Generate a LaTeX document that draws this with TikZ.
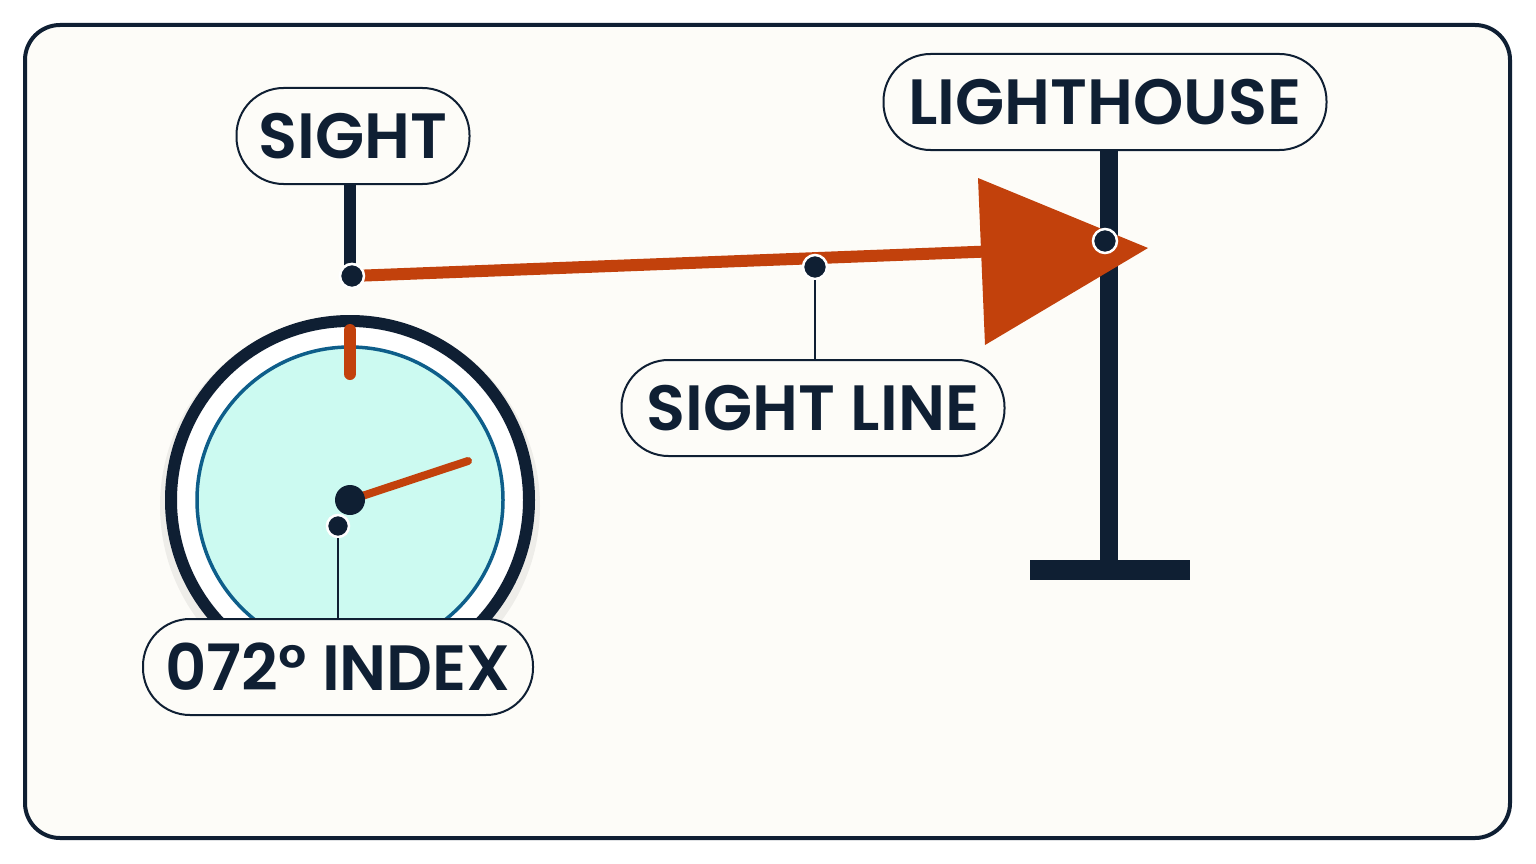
\documentclass[tikz,border=0pt]{standalone}
\usepackage{fontspec}
\setmainfont{Poppins}[BoldFont={Poppins SemiBold}]
\begin{document}
\begin{tikzpicture}[x=1pt,y=-1pt,
  lab/.style={draw=navy,line width=2pt,fill=bg,rounded corners=47pt,minimum height=96pt,inner xsep=0pt,font=\fontsize{64}{64}\selectfont\bfseries,text=navy},
  dot/.style={circle,fill=navy,draw=white,line width=2.5pt,minimum size=24pt,inner sep=0pt}]
\definecolor{navy}{HTML}{0F1F33}
\definecolor{bg}{HTML}{FDFCF8}
\definecolor{org}{HTML}{C2410C}
\definecolor{aqua}{HTML}{CCFAF1}
\definecolor{blu}{HTML}{0E5E8A}
\useasboundingbox (0,0) rectangle (1536,864);
\fill[white] (0,0) rectangle (1536,864);
\draw[navy,line width=4pt,fill=bg,rounded corners=35pt] (25,25) rectangle (1510,838);
% compass
\fill[black,opacity=0.06] (350,506) circle (190);
\draw[navy,line width=12pt,fill=white] (350,500) circle (179);
\draw[blu,line width=3.5pt,fill=aqua] (350,500) circle (153);
\draw[org,line width=12pt,line cap=round] (350,330) -- (350,374);
\coordinate (hub) at (350,500);
\coordinate (tip) at (468,461);
\draw[org,line width=8pt,line cap=round] (hub) -- (tip);
\node[circle,fill=navy,minimum size=30pt,inner sep=0pt] (c) at (hub) {};
% sight
\node[lab,minimum width=233pt] (sight) at (353,136) {SIGHT};
\coordinate (sb) at (350,266);
\draw[navy,line width=12pt] (sight.south -| sb) -- (sb);
% lighthouse
\node[lab,minimum width=443pt] (lh) at (1105,102) {LIGHTHOUSE};
\coordinate (pb) at (1109,565);
\draw[navy,line width=18pt] (lh.south -| pb) -- (pb);
\fill[navy] (1030,560) rectangle (1190,580);
% sight line
\coordinate (ae) at (1000,251);
\node[dot] (s) at (352,276) {};
\draw[org,line width=12pt] (s.center) -- (ae);
\fill[org] (978,178) -- (1148,248) -- (985,345) -- cycle;
\node[dot] (s2) at (352,276) {};
\node[dot] (m) at (815,267) {};
\node[dot] (l) at (1105,241) {};
\node[lab,minimum width=383pt] (sl) at (813,408) {SIGHT LINE};
\draw[navy,line width=2pt] (m.south) -- (m.south |- sl.north);
% index
\node[dot,minimum size=22pt] (ix) at (338,526) {};
\node[lab,minimum width=390pt] (il) at (338,667) {072° INDEX};
\draw[navy,line width=2pt] (ix.south) -- (ix.south |- il.north);
\end{tikzpicture}
\end{document}
